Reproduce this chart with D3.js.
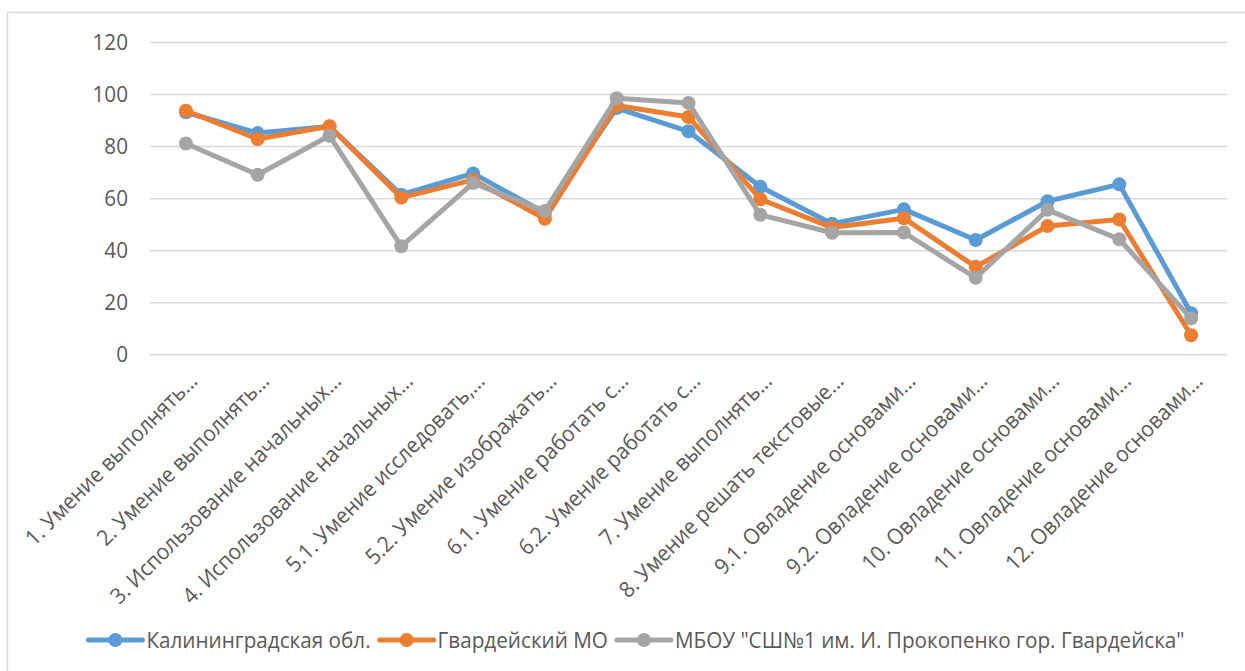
<!DOCTYPE html>
<html>
<head>
<meta charset="utf-8">
<script src="https://cdn.jsdelivr.net/npm/d3@7"></script>
<style>
  html, body { margin: 0; padding: 0; background: #fff; }
  svg { display: block; }
  text { font-family: "Open Sans", "Noto Sans", sans-serif; fill: #595959; }
</style>
</head>
<body>
<svg id="chart" width="1245" height="671"></svg>
<script>
const categories = [
  "1. Умение выполнять...",
  "2. Умение выполнять...",
  "3. Использование начальных...",
  "4. Использование начальных...",
  "5.1. Умение исследовать,...",
  "5.2. Умение изображать...",
  "6.1. Умение работать с...",
  "6.2. Умение работать с...",
  "7. Умение выполнять...",
  "8. Умение решать текстовые...",
  "9.1. Овладение основами...",
  "9.2. Овладение основами...",
  "10. Овладение основами...",
  "11. Овладение основами...",
  "12. Овладение основами..."
];
const seriesNames = [
  "Калининградская обл.",
  "Гвардейский МО",
  "МБОУ \"СШ№1 им. И. Прокопенко гор. Гвардейска\""
];
const kaliningrad = [93, 85, 87.5, 61.3, 69.5, 54.3, 94.6, 85.7, 64.4, 50.2, 55.7, 43.9, 58.8, 65.3, 15.8];
const gvardeysky  = [93.6, 82.7, 87.6, 60.2, 67, 52.1, 95.6, 91.2, 59.6, 48.7, 52.3, 33.6, 49.3, 51.8, 7.3];
const school      = [81, 69, 84, 41.5, 65.8, 55.1, 98.4, 96.6, 53.6, 46.7, 46.8, 29.4, 55.5, 44.2, 13.8];
const yTicks = [0, 20, 40, 60, 80, 100, 120];
const colors = ["#5B9BD5", "#ED7D31", "#A5A5A5"];

const allSeries = [kaliningrad, gvardeysky, school];

const svg = d3.select("#chart");
const W = 1245, H = 671;
const FONT = 22;
const SX = 0.94;

svg.append("rect")
  .attr("x", 7.5).attr("y", 12.5)
  .attr("width", W + 10).attr("height", H + 10)
  .attr("fill", "none").attr("stroke", "#D9D9D9").attr("stroke-width", 1.5);

const plot = { left: 150, right: 1227, top: 42, bottom: 354.3 };

const x = d3.scaleBand().domain(categories).range([plot.left, plot.right]).paddingInner(0).paddingOuter(0);
const y = d3.scaleLinear().domain([0, 120]).range([plot.bottom, plot.top]);

const yAxis = d3.axisLeft(y).tickValues(yTicks).tickSize(-(plot.right - plot.left)).tickPadding(22);
const gY = svg.append("g").attr("transform", `translate(${plot.left},0)`).call(yAxis);
gY.select(".domain").remove();
gY.selectAll(".tick line").attr("stroke", "#D9D9D9").attr("stroke-width", 1.5);
gY.selectAll(".tick text")
  .attr("font-size", FONT).attr("fill", "#595959")
  .attr("font-family", "\"Open Sans\", sans-serif")
  .attr("x", 0)
  .attr("transform", `translate(-22,0) scale(${SX},1)`);

const xAxis = d3.axisBottom(x).tickSize(0).tickPadding(0);
const gX = svg.append("g").attr("transform", `translate(0,${plot.bottom})`).call(xAxis);
gX.select(".domain").remove();
gX.selectAll(".tick text")
  .attr("font-size", FONT).attr("fill", "#595959")
  .attr("font-family", "\"Open Sans\", sans-serif")
  .attr("text-anchor", "end")
  .attr("dy", null)
  .attr("y", 0)
  .attr("transform", `translate(13,28) rotate(-45) scale(${SX},1)`);

const cx = d => x(d) + x.bandwidth() / 2;
const line = d3.line().x((d, i) => cx(categories[i])).y(d => y(d));

allSeries.forEach((s, k) => {
  const g = svg.append("g");
  g.append("path").datum(s)
    .attr("d", line)
    .attr("fill", "none")
    .attr("stroke", colors[k])
    .attr("stroke-width", 5)
    .attr("stroke-linejoin", "round")
    .attr("stroke-linecap", "round");
  g.selectAll("circle").data(s).join("circle")
    .attr("cx", (d, i) => cx(categories[i]))
    .attr("cy", d => y(d))
    .attr("r", 7)
    .attr("fill", colors[k]);
});

const legY = 640;
const leg = svg.append("g");
let pos = 0;
seriesNames.forEach((name, k) => {
  const it = leg.append("g");
  it.append("line").attr("x1", 0).attr("x2", 54).attr("y1", 0).attr("y2", 0)
    .attr("stroke", colors[k]).attr("stroke-width", 5).attr("stroke-linecap", "round");
  it.append("circle").attr("cx", 27).attr("cy", 0).attr("r", 7).attr("fill", colors[k]);
  const t = it.append("text").attr("x", 0).attr("y", 0).attr("dy", "0.35em")
    .attr("transform", `translate(58,0) scale(${SX},1)`)
    .attr("font-size", FONT).text(name);
  const w = 58 + t.node().getComputedTextLength() * SX;
  it.attr("transform", `translate(${pos},${legY})`);
  pos += w + 9;
});
const total = pos - 9;
leg.attr("transform", `translate(${636.5 - total / 2},0)`);
</script>
</body>
</html>
